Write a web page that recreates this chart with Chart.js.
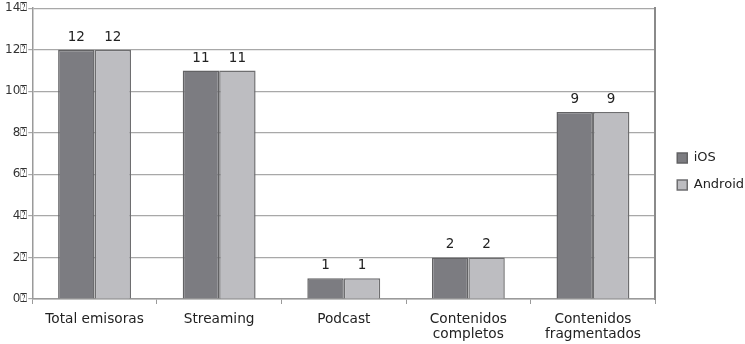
<!DOCTYPE html>
<html>
<head>
<meta charset="utf-8">
<script src="https://cdn.jsdelivr.net/npm/chart.js@4/dist/chart.umd.min.js"></script>
<style>
  html, body { margin: 0; padding: 0; background: #ffffff; }
  #wrap { width: 745px; height: 344px; }
</style>
</head>
<body>
<div id="wrap"><canvas id="c" width="745" height="344"></canvas></div>
<script>
const categories = ['Total emisoras', 'Streaming', 'Podcast', ['Contenidos', 'completos'], ['Contenidos', 'fragmentados']];
const iosValues = [12, 11, 1, 2, 9];
const androidValues = [12, 11, 1, 2, 9];
const yTicks = [0, 2, 4, 6, 8, 10, 12, 14];
const tickSuffix = '\u2370';

const FONT = 'DejaVu Sans, Verdana, sans-serif';

// Value labels above each bar
const barValues = {
  id: 'barValues',
  afterDatasetsDraw(chart) {
    const ctx = chart.ctx;
    ctx.save();
    ctx.font = '13.5px ' + FONT;
    ctx.fillStyle = '#222';
    ctx.textAlign = 'center';
    ctx.textBaseline = 'alphabetic';
    chart.data.datasets.forEach((ds, i) => {
      chart.getDatasetMeta(i).data.forEach((bar, j) => {
        ctx.fillText(String(ds.data[j]), bar.x, bar.y - 9);
      });
    });
    ctx.restore();
  }
};

new Chart(document.getElementById('c'), {
  type: 'bar',
  data: {
    labels: categories,
    datasets: [
      { label: 'iOS', data: iosValues, backgroundColor: '#7c7c81', borderColor: '#626264', borderWidth: 1.5 },
      { label: 'Android', data: androidValues, backgroundColor: '#bdbdc1', borderColor: '#6e6e70', borderWidth: 1.5 }
    ]
  },
  options: {
    responsive: false,
    animation: false,
    devicePixelRatio: 1,
    layout: { padding: { top: 2, left: 4, right: -9, bottom: -6 } },
    datasets: { bar: { barPercentage: 1, categoryPercentage: 0.585 } },
    plugins: {
      legend: {
        position: 'right',
        align: 'start',
        // empty title used only as vertical spacing above the items
        title: { display: true, text: '', font: { size: 12, lineHeight: 1.2 }, padding: { top: 121, bottom: 0 } },
        labels: {
          font: { family: FONT, size: 13 },
          color: '#222',
          boxWidth: 10,
          boxHeight: 10,
          padding: 14
        }
      },
      tooltip: { enabled: false }
    },
    scales: {
      x: {
        grid: { display: true, drawOnChartArea: false, color: '#9a9a9a', tickLength: 5, offset: true },
        border: { color: '#9a9a9a', width: 1.5 },
        ticks: { font: { family: FONT, size: 13.7, lineHeight: '15px' }, color: '#222', padding: 8, maxRotation: 0, autoSkip: false }
      },
      y: {
        min: 0,
        max: 14,
        afterBuildTicks(axis) { axis.ticks = yTicks.map(v => ({ value: v })); },
        grid: { color: '#a8a8a8', lineWidth: 1.2, tickLength: 4 },
        border: { color: '#9a9a9a', width: 1.5 },
        ticks: {
          font: { family: FONT, size: 12 },
          color: '#333',
          padding: 1,
          callback: v => v + tickSuffix
        }
      },
      // right edge of the plot frame, also spacing before the legend
      yRight: {
        position: 'right',
        min: 0,
        max: 14,
        grid: { display: false },
        ticks: { display: false },
        border: { color: '#8a8a8a', width: 2 },
        afterFit(axis) { axis.width = 8; }
      }
    }
  },
  plugins: [barValues]
});
</script>
</body>
</html>
